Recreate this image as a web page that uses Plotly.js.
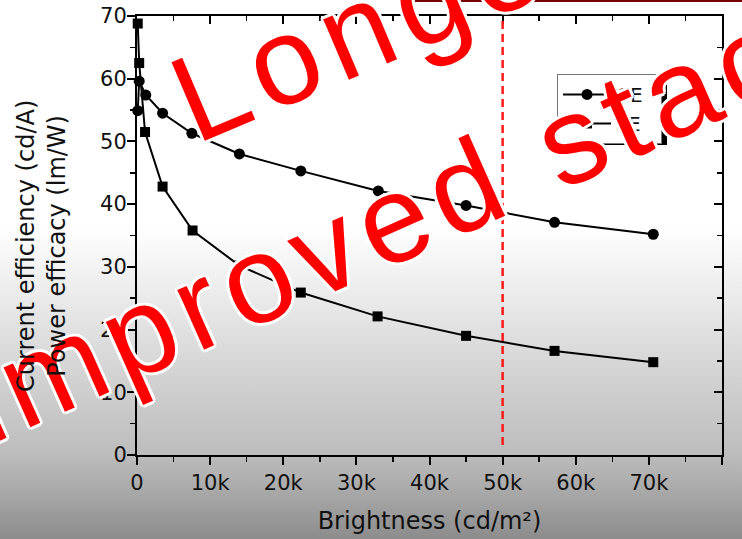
<!DOCTYPE html>
<html>
<head>
<meta charset="utf-8">
<script src="https://cdn.plot.ly/plotly-3.0.1.min.js"></script>
<style>
  html, body { margin: 0; padding: 0; }
  body {
    width: 742px; height: 539px; overflow: hidden;
    background: linear-gradient(to bottom, #ffffff 0%, #ffffff 42%, #e6e6e6 58%, #d2d2d2 70%, #bdbdbd 84%, #a9a9a9 91%, #8c8c8c 100%);
  }
  #chart { width: 742px; height: 539px; }
  g.annotation[data-index="0"] text.annotation-text { letter-spacing: 10px; }
  g.annotation[data-index="1"] text.annotation-text { letter-spacing: 9px; }
</style>
</head>
<body>
<div id="chart"></div>
<script>
// ---- data ----
const ceBrightness = [100, 300, 1200, 3500, 7500, 14000, 22400, 33000, 45000, 57100, 70600];
const ceValues     = [54.9, 59.6, 57.4, 54.5, 51.3, 48.0, 45.3, 42.1, 39.8, 37.1, 35.2];
const peBrightness = [100, 300, 1100, 3500, 7600, 14000, 22400, 32900, 45000, 57100, 70600];
const peValues     = [68.8, 62.5, 51.5, 42.8, 35.8, 30.2, 25.9, 22.1, 19.0, 16.6, 14.8];
const seriesNames  = ['CE', 'PE'];

const xTickVals = [0, 10000, 20000, 30000, 40000, 50000, 60000, 70000, 80000];
const xTickText = ['0', '10k', '20k', '30k', '40k', '50k', '60k', '70k', '80k'];
const yTickVals = [0, 10, 20, 30, 40, 50, 60, 70];
const yTickText = ['0', '10', '20', '30', '40', '50', '60', '70'];
const xRange = [0, 80000];
const yRange = [0, 70];
const referenceBrightness = 50000;

const overlayLine1 = 'Longer';
const overlayLine2 = 'improved stack';

const xTitle = 'Brightness (cd/m²)';
const yTitle = 'Current efficiency (cd/A)<br>Power efficacy (lm/W)';

// ---- derived ----
const mids = a => a.slice(0, -1).map((v, i) => (v + a[i + 1]) / 2);
const xMinor = mids(xTickVals);
const yMinor = mids(yTickVals);
const pad = s => s + '\u00a0\u00a0';

const axisFont = { family: 'DejaVu Sans', size: 21, color: '#111' };
const outline = '3px 0 0 #fff, -3px 0 0 #fff, 0 3px 0 #fff, 0 -3px 0 #fff, 2px 2px 0 #fff, -2px -2px 0 #fff, 2px -2px 0 #fff, -2px 2px 0 #fff';

const traces = [
  {
    x: ceBrightness, y: ceValues, name: pad(seriesNames[0]),
    type: 'scatter', mode: 'lines+markers',
    line: { color: '#000', width: 2 },
    marker: { symbol: 'circle', size: 11, color: '#000' },
    cliponaxis: false
  },
  {
    x: peBrightness, y: peValues, name: pad(seriesNames[1]),
    type: 'scatter', mode: 'lines+markers',
    line: { color: '#000', width: 2 },
    marker: { symbol: 'square', size: 10, color: '#000' },
    cliponaxis: false
  },
  { x: [], y: [], xaxis: 'x2', yaxis: 'y2', showlegend: false, hoverinfo: 'skip', type: 'scatter' }
];

const baseX = {
  range: xRange, tickmode: 'array', tickvals: xTickVals,
  showgrid: false, zeroline: false, showline: true, linecolor: '#000', linewidth: 2,
  tickcolor: '#000', tickwidth: 2, ticklen: 8,
  minor: { tickmode: 'array', tickvals: xMinor, ticklen: 5, tickwidth: 1.5, tickcolor: '#000', showgrid: false }
};
const baseY = {
  range: yRange, tickmode: 'array', tickvals: yTickVals,
  showgrid: false, zeroline: false, showline: true, linecolor: '#000', linewidth: 2,
  tickcolor: '#000', tickwidth: 2, ticklen: 8,
  minor: { tickmode: 'array', tickvals: yMinor, ticklen: 5, tickwidth: 1.5, tickcolor: '#000', showgrid: false }
};

const layout = {
  width: 742, height: 539,
  margin: { l: 137, r: 20, t: 16, b: 84 },
  paper_bgcolor: 'rgba(0,0,0,0)',
  plot_bgcolor: 'rgba(0,0,0,0)',
  font: { family: 'DejaVu Sans', color: '#111' },
  showlegend: true,
  legend: {
    x: 0.718, y: 0.868, xanchor: 'left', yanchor: 'top',
    bgcolor: '#ffffff', bordercolor: '#777', borderwidth: 1,
    font: { family: 'DejaVu Sans', size: 20, color: '#111' },
    itemwidth: 48, tracegroupgap: 0
  },
  xaxis: Object.assign({}, baseX, {
    ticks: 'outside', ticktext: xTickText, tickfont: axisFont,
    minor: Object.assign({}, baseX.minor, { ticks: 'outside' }),
    title: { text: xTitle, font: { family: 'DejaVu Sans', size: 24, color: '#111' }, standoff: 18 }
  }),
  yaxis: Object.assign({}, baseY, {
    ticks: 'outside', ticktext: yTickText, tickfont: axisFont, ticklabelstandoff: -4,
    minor: Object.assign({}, baseY.minor, { ticks: 'outside' })
  }),
  xaxis2: Object.assign({}, baseX, {
    overlaying: 'x', side: 'top', anchor: 'y', ticks: 'inside', showticklabels: false,
    minor: Object.assign({}, baseX.minor, { ticks: 'inside' })
  }),
  yaxis2: Object.assign({}, baseY, {
    overlaying: 'y', side: 'right', anchor: 'x', ticks: 'inside', showticklabels: false,
    minor: Object.assign({}, baseY.minor, { ticks: 'inside' })
  }),
  shapes: [
    { // legend drop shadow
      type: 'rect', xref: 'paper', yref: 'paper',
      x0: 0.7265, x1: 0.906, y0: 0.706, y1: 0.8565,
      fillcolor: '#000', line: { width: 0 }, layer: 'above'
    },
    { // reference line at 50k
      type: 'line', xref: 'x', yref: 'paper',
      x0: referenceBrightness, x1: referenceBrightness, y0: 0.023, y1: 1,
      line: { color: '#ff1a1a', width: 2.5, dash: '8px,5px' }, layer: 'above'
    },
    { // dark red rule at the top edge
      type: 'line', xref: 'paper', yref: 'paper',
      x0: 0.475, x1: 1.04, y0: 1.035, y1: 1.035,
      line: { color: '#7a0000', width: 2.5 }
    }
  ],
  annotations: [
    {
      text: overlayLine1, xref: 'paper', yref: 'paper',
      x: (384 - 137) / 585, y: (455 - 18) / 439,
      xanchor: 'center', yanchor: 'middle', textangle: -23, showarrow: false,
      font: { family: 'Liberation Sans', size: 124, color: '#ff0000', shadow: outline }
    },
    {
      text: overlayLine2, xref: 'paper', yref: 'paper',
      x: (410 - 137) / 585, y: (455 - 211) / 439,
      xanchor: 'center', yanchor: 'middle', textangle: -24, showarrow: false,
      font: { family: 'Liberation Sans', size: 124, color: '#ff0000', shadow: outline }
    },
    { // y axis title (two lines)
      text: yTitle, xref: 'paper', yref: 'paper',
      x: (42 - 137) / 585, y: (455 - 246) / 439,
      xanchor: 'center', yanchor: 'middle', textangle: -90, showarrow: false,
      font: { family: 'DejaVu Sans', size: 24, color: '#111' }
    }
  ]
};

Plotly.newPlot('chart', traces, layout, { displayModeBar: false, staticPlot: true });
</script>
</body>
</html>
